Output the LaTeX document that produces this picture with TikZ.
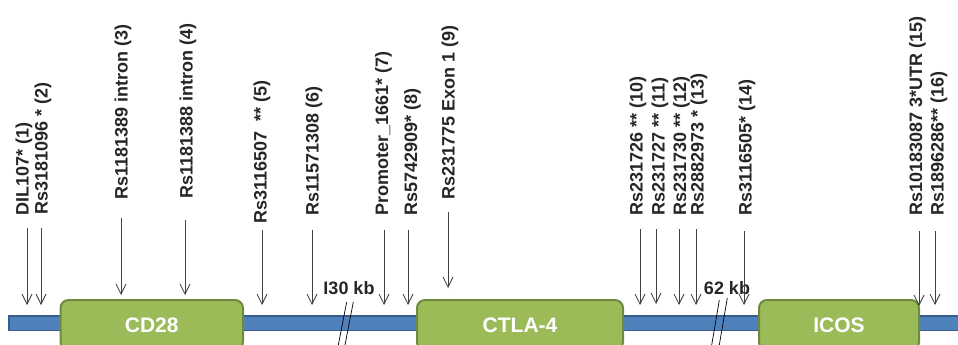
\documentclass[tikz,border=0pt]{standalone}
\usepackage{fontspec}
\setmainfont{Liberation Sans}
\usetikzlibrary{arrows.meta}
\definecolor{chromblue}{HTML}{4F81BD}
\definecolor{chromedge}{HTML}{385D8A}
\definecolor{genegreen}{HTML}{9BBB59}
\definecolor{geneedge}{HTML}{71893F}
\begin{document}
\begin{tikzpicture}[x=1pt, y=-1pt,
    snp/.style={-{Straight Barb[length=10pt, width=10pt]}, draw=black!75,
      line width=0.8pt},
    snplabel/.style={rotate=90, anchor=west, inner sep=0pt, text=black!85,
      font=\fontsize{18}{20}\selectfont\bfseries},
    gene/.style={draw=geneedge, line width=2pt, fill=genegreen,
      rounded corners=8pt, inner sep=0pt, minimum height=50pt, text=white,
      font=\fontsize{21}{24}\selectfont\bfseries},
    chrom/.style={draw=chromedge, line width=1.5pt, fill=chromblue,
      inner sep=0pt, minimum width=961pt, minimum height=14.5pt},
    kb/.style={inner sep=0pt, text=black!85,
      font=\fontsize{18}{20}\selectfont\bfseries},
    brk/.style={draw=black, line width=0.7pt}]
  \useasboundingbox (0,0) rectangle (958,345);
  \clip (0,0) rectangle (958,345);
  % chromosome and genes
  \node[chrom] (dna) at (489.25,323) {};
  \node[gene, minimum width=182.5pt] (cd28) at (151.75,325) {CD28};
  \node[gene, minimum width=206pt] (ctla4) at (520,325) {CTLA-4};
  \node[gene, minimum width=160pt] (icos) at (839,325) {ICOS};
  % breaks in the line
  \draw[brk] (346.7,302) -- (338.3,345);
  \draw[brk] (353.3,302) -- (345,345);
  \draw[brk] (719.3,300) -- (711.7,345);
  \draw[brk] (727.3,298) -- (719.3,345);
  \node[kb] (gap1) at (349,288) {I30 kb};
  \node[kb] (gap2) at (727,288) {62 kb};
  % SNP labels
  \node[snplabel] (l1) at (24,216) {DIL107* (1)};
  \node[snplabel] (l2) at (43,215) {Rs3181096 * (2)};
  \node[snplabel] (l3) at (123,200) {Rs1181389 intron (3)};
  \node[snplabel] (l4) at (188,199) {Rs1181388 intron (4)};
  \node[snplabel] (l5) at (262,224) {Rs3116507\ \ ** (5)};
  \node[snplabel] (l6) at (314,216) {Rs11571308 (6)};
  \node[snplabel] (l7) at (383.5,216) {Promoter\_1661* (7)};
  \node[snplabel] (l8) at (412.5,216) {Rs5742909* (8)};
  \node[snplabel] (l9) at (450,200) {Rs231775 Exon 1 (9)};
  \node[snplabel] (l10) at (638,216) {Rs231726 ** (10)};
  \node[snplabel] (l11) at (660,216) {Rs231727 ** (11)};
  \node[snplabel] (l12) at (681.5,216) {Rs231730 ** (12)};
  \node[snplabel] (l13) at (699,216) {Rs2882973 * (13)};
  \node[snplabel] (l14) at (747,216) {Rs3116505* (14)};
  \node[snplabel] (l15) at (917.5,216) {Rs10183087 3*UTR (15)};
  \node[snplabel] (l16) at (939,216) {Rs1896286** (16)};
  % SNP arrows
  \coordinate (a1) at (27,228);   \coordinate (p1) at (27,305);
  \coordinate (a2) at (41,228);   \coordinate (p2) at (41,305);
  \coordinate (a3) at (121,218);  \coordinate (p3) at (121,295);
  \coordinate (a4) at (185,220);  \coordinate (p4) at (185,295);
  \coordinate (a5) at (262,230);  \coordinate (p5) at (262,305);
  \coordinate (a6) at (312,230);  \coordinate (p6) at (312,305);
  \coordinate (a7) at (384,230);  \coordinate (p7) at (384,305);
  \coordinate (a8) at (408,230);  \coordinate (p8) at (408,305);
  \coordinate (a9) at (448,212);  \coordinate (p9) at (448,288);
  \coordinate (a10) at (640,229); \coordinate (p10) at (640,305);
  \coordinate (a11) at (656,229); \coordinate (p11) at (656,304);
  \coordinate (a12) at (679,229); \coordinate (p12) at (679,305);
  \coordinate (a13) at (696,229); \coordinate (p13) at (696,305);
  \coordinate (a14) at (744,231); \coordinate (p14) at (744,305);
  \coordinate (a15) at (919,231); \coordinate (p15) at (919,306);
  \coordinate (a16) at (935,231); \coordinate (p16) at (935,305);
  \draw[snp] (a1) -- (p1);
  \draw[snp] (a2) -- (p2);
  \draw[snp] (a3) -- (p3);
  \draw[snp] (a4) -- (p4);
  \draw[snp] (a5) -- (p5);
  \draw[snp] (a6) -- (p6);
  \draw[snp] (a7) -- (p7);
  \draw[snp] (a8) -- (p8);
  \draw[snp] (a9) -- (p9);
  \draw[snp] (a10) -- (p10);
  \draw[snp] (a11) -- (p11);
  \draw[snp] (a12) -- (p12);
  \draw[snp] (a13) -- (p13);
  \draw[snp] (a14) -- (p14);
  \draw[snp] (a15) -- (p15);
  \draw[snp] (a16) -- (p16);
\end{tikzpicture}
\end{document}
